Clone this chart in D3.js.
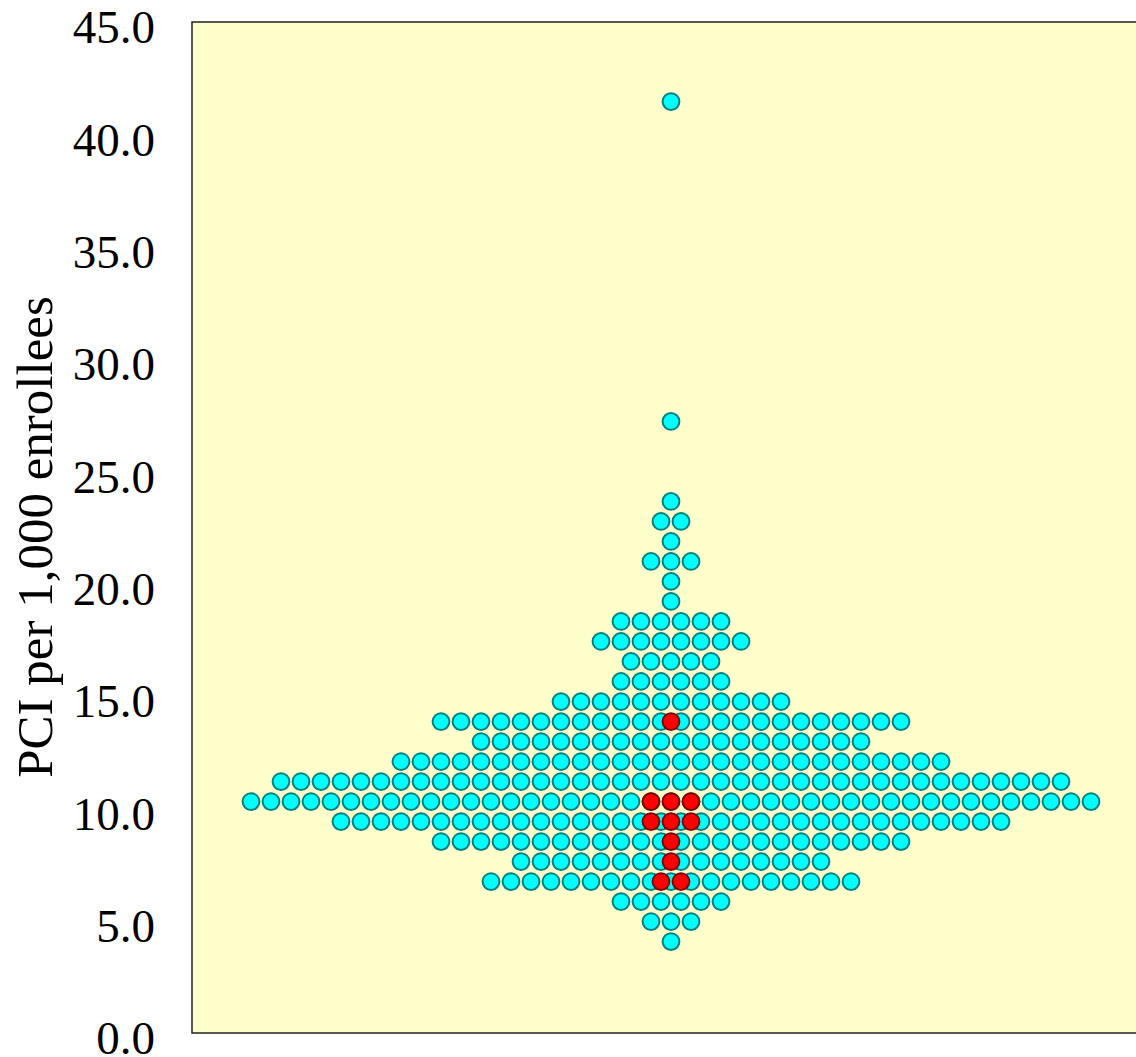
<!DOCTYPE html>
<html>
<head>
<meta charset="utf-8">
<script src="https://cdn.jsdelivr.net/npm/d3@7"></script>
<style>
  html, body { margin: 0; padding: 0; background: #ffffff; }
  svg { display: block; }
</style>
</head>
<body>
<svg id="chart" width="1136" height="1057"></svg>
<script>
// Bin values (PCI per 1,000 enrollees) of each dot row
const rowValues = [41.46, 27.22, 23.66, 22.77, 21.88, 20.99, 20.10, 19.21, 18.32, 17.43,
                   16.54, 15.65, 14.75, 13.86, 12.97, 12.08, 11.19, 10.30, 9.41, 8.52,
                   7.63, 6.74, 5.85, 4.96, 4.07];
// Number of cyan dots in each row
const allCounts = [1, 1, 1, 2, 1, 3, 1, 1, 6, 8,
                   5, 6, 12, 24, 20, 28, 40, 43, 34, 24,
                   16, 19, 6, 3, 1];
// Number of highlighted (red) dots in each row
const highlightCounts = [0, 0, 0, 0, 0, 0, 0, 0, 0, 0,
                         0, 0, 0, 1, 0, 0, 0, 3, 3, 1,
                         1, 2, 0, 0, 0];
const yTicks = [0, 5, 10, 15, 20, 25, 30, 35, 40, 45];
const yTitle = "PCI per 1,000 enrollees";

const svg = d3.select("#chart");
const plot = { left: 192, top: 22, right: 1170, bottom: 1033 };

const y = d3.scaleLinear().domain([0, 45]).range([plot.bottom, plot.top]);
// horizontal slot scale: each dot occupies one slot, centred on 0
const x = d3.scaleLinear().domain([-24, 24]).range([191, 1151]);

// plot background
svg.append("rect")
  .attr("x", plot.left).attr("y", plot.top)
  .attr("width", plot.right - plot.left).attr("height", plot.bottom - plot.top)
  .attr("fill", "#ffffcc")
  .attr("stroke", "#222").attr("stroke-width", 1.5);

function layout(counts) {
  const pts = [];
  counts.forEach((n, r) => {
    for (let i = 0; i < n; i++) {
      pts.push({ v: rowValues[r], slot: i - (n - 1) / 2 });
    }
  });
  return pts;
}

const g = svg.append("g");
g.selectAll("circle.all").data(layout(allCounts)).join("circle")
  .attr("class", "all")
  .attr("cx", d => x(d.slot)).attr("cy", d => y(d.v))
  .attr("r", 8.4)
  .attr("fill", "#00ffff").attr("stroke", "#008080").attr("stroke-width", 2);

g.selectAll("circle.hi").data(layout(highlightCounts)).join("circle")
  .attr("class", "hi")
  .attr("cx", d => x(d.slot)).attr("cy", d => y(d.v))
  .attr("r", 8.4)
  .attr("fill", "#ff0000").attr("stroke", "#800000").attr("stroke-width", 2);

// y axis
const axis = svg.append("g")
  .attr("transform", `translate(${plot.left},0)`)
  .call(d3.axisLeft(y).tickValues(yTicks).tickSize(0).tickPadding(37).tickFormat(d3.format(".1f")));
axis.select(".domain").remove();
axis.selectAll("text")
  .attr("dy", "0.44em")
  .attr("fill", "#000")
  .style("font-family", "'Liberation Serif', 'Times New Roman', serif")
  .style("font-size", "47px");

svg.append("text")
  .attr("transform", "translate(52,537) rotate(-90)")
  .attr("text-anchor", "middle")
  .style("font-family", "'Liberation Serif', 'Times New Roman', serif")
  .style("font-size", "51px")
  .attr("fill", "#000")
  .text(yTitle);
</script>
</body>
</html>
